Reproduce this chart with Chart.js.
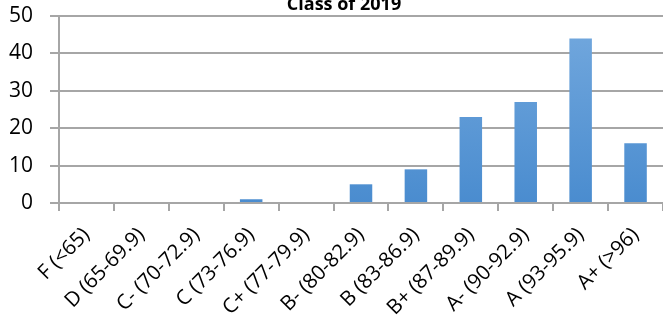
<!DOCTYPE html>
<html>
<head>
<meta charset="utf-8">
<script src="https://cdn.jsdelivr.net/npm/chart.js@4/dist/chart.umd.min.js"></script>
<style>
html,body{margin:0;padding:0;background:#fff;}
#wrap{width:663px;height:319px;position:relative;}
</style>
</head>
<body>
<div id="wrap"><canvas id="c" width="663" height="319"></canvas></div>
<script>
const title = "Class of 2019";
const categories = ["F (<65)","D (65-69.9)","C- (70-72.9)","C (73-76.9)","C+ (77-79.9)","B- (80-82.9)","B (83-86.9)","B+ (87-89.9)","A- (90-92.9)","A (93-95.9)","A+ (>96)"];
const counts = [0,0,0,1,0,5,9,23,27,44,16];
const yTicks = [0,10,20,30,40,50];

const FONT = "'Open Sans', 'DejaVu Sans', sans-serif";

const titlePlugin = {
  id: 'topTitle',
  afterDraw(chart) {
    const ctx = chart.ctx;
    const ca = chart.chartArea;
    ctx.save();
    ctx.font = "bold 18px " + FONT;
    ctx.fillStyle = "#000";
    ctx.textAlign = "center";
    ctx.textBaseline = "alphabetic";
    ctx.fillText(title, (ca.left + ca.right) / 2 - 17, 10);
    ctx.restore();
  }
};

function barGradient(context) {
  const chart = context.chart;
  const ca = chart.chartArea;
  if (!ca) return '#5b9bd5';
  const g = chart.ctx.createLinearGradient(0, ca.top, 0, ca.bottom);
  g.addColorStop(0, '#74a9de');
  g.addColorStop(1, '#4a8ccf');
  return g;
}

new Chart(document.getElementById('c'), {
  type: 'bar',
  data: {
    labels: categories,
    datasets: [{
      data: counts,
      backgroundColor: barGradient,
      borderWidth: 0,
      categoryPercentage: 1.0,
      barPercentage: 0.41
    }]
  },
  options: {
    responsive: false,
    animation: false,
    devicePixelRatio: 1,
    layout: { padding: { top: 16, right: 0, left: 0, bottom: 0 } },
    plugins: { legend: { display: false }, title: { display: false }, tooltip: { enabled: false } },
    scales: {
      x: {
        grid: { offset: true, drawOnChartArea: false, drawTicks: true, tickLength: 8, color: '#a6a6a6', lineWidth: 2 },
        border: { color: '#a6a6a6', width: 2 },
        ticks: {
          minRotation: 45, maxRotation: 45, autoSkip: false,
          font: { family: FONT, size: 20.5 }, color: '#000', padding: 12
        },
        afterFit(scale) { scale.height = 116; scale.paddingLeft = 0; scale.paddingRight = 0; }
      },
      y: {
        min: 0, max: 50,
        afterBuildTicks(scale) { scale.ticks = yTicks.map(v => ({ value: v })); },
        grid: { color: '#a6a6a6', lineWidth: 2, tickLength: 9 },
        border: { color: '#a6a6a6', width: 2 },
        ticks: { font: { family: FONT, size: 21 }, color: '#000', padding: 17 },
        afterFit(scale) { scale.width = 59; scale.paddingTop = 0; scale.paddingBottom = 0; }
      }
    }
  },
  plugins: [titlePlugin]
});
</script>
</body>
</html>
